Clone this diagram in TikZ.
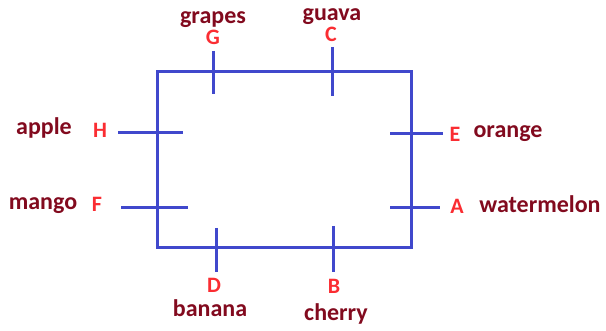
\documentclass[tikz,border=0pt]{standalone}
\usepackage{fontspec}
\setmainfont{Carlito}
\usetikzlibrary{positioning}
\definecolor{wireblue}{RGB}{64,72,204}
\definecolor{portred}{RGB}{250,45,50}
\definecolor{fruitred}{RGB}{130,10,30}

\begin{document}
\begin{tikzpicture}[
    x = 1pt,
    y = -1pt,
    wire/.style={
        draw = wireblue,
        line width = 3pt
    },
    port/.style={
        text = portred,
        anchor = base,
        inner sep = 0pt,
        font = \bfseries\fontsize{22}{22}\selectfont
    },
    fruit/.style={
        text = fruitred,
        anchor = base,
        inner sep = 0pt,
        font = \bfseries\fontsize{24}{24}\selectfont
    }
]
\useasboundingbox (0,0) rectangle (606,331);

% box
\coordinate (tl) at (157,72);
\coordinate (tr) at (411,72);
\coordinate (br) at (411,248);
\coordinate (bl) at (157,248);
\draw[wire, line join=miter] (tl) -- (tr) -- (br) -- (bl) -- cycle;

% tick ends
\coordinate (G-s) at (213,51);  \coordinate (G-e) at (213,94);
\coordinate (C-s) at (332,47);  \coordinate (C-e) at (332,96);
\coordinate (H-s) at (118,133); \coordinate (H-e) at (183,133);
\coordinate (E-s) at (390,134); \coordinate (E-e) at (443,134);
\coordinate (F-s) at (121,208); \coordinate (F-e) at (188,208);
\coordinate (A-s) at (390,208); \coordinate (A-e) at (440,208);
\coordinate (D-s) at (216,228); \coordinate (D-e) at (216,272);
\coordinate (B-s) at (333,226); \coordinate (B-e) at (333,272);
\foreach \nm in {G,C,H,E,F,A,D,B}
    \draw[wire] (\nm-s) -- (\nm-e);

% letters
\node[port] (G) at (213,45) {G};
\node[port] (C) at (331,42) {C};
\node[port] (H) at (100,138) {H};
\node[port] (E) at (455,142) {E};
\node[port] (F) at (97,212) {F};
\node[port] (A) at (457,214) {A};
\node[port] (D) at (214,293) {D};
\node[port] (B) at (334,294) {B};

% fruits
\node[fruit] (grapes) at (213,24) {grapes};
\node[fruit] (guava) at (332,21) {guava};
\node[fruit] (apple) at (44,135) {apple};
\node[fruit] (orange) at (508,138) {orange};
\node[fruit] (mango) at (43,210) {mango};
\node[fruit] (watermelon) at (540,213) {watermelon};
\node[fruit] (banana) at (210,317) {banana};
\node[fruit] (cherry) at (336,321) {cherry};

\end{tikzpicture}
\end{document}
